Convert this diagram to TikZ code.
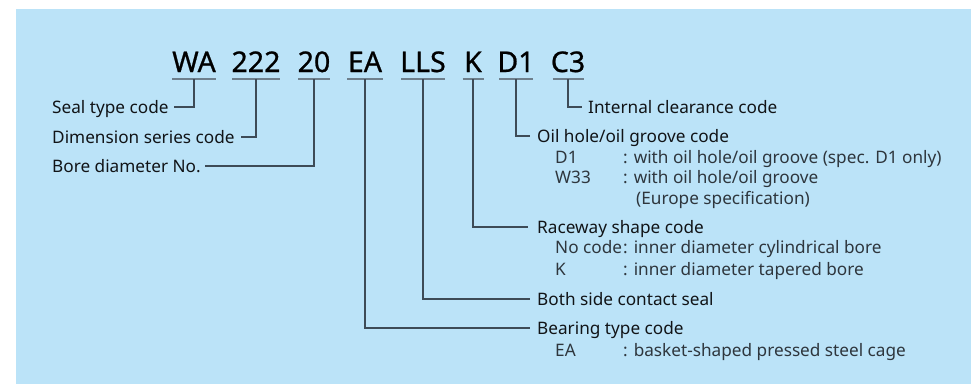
\documentclass[tikz,border=0pt]{standalone}
\usepackage{fontspec}
\setmainfont{Noto Sans}
\newfontfamily\codefont[FakeBold=0.8]{Noto Sans}
\definecolor{bgblue}{HTML}{BBE3F8}
\definecolor{maintext}{HTML}{111417}
\definecolor{subtext}{HTML}{2E363D}
\definecolor{leadgray}{HTML}{3D4B57}
\definecolor{ulgray}{HTML}{6E7F8C}
\begin{document}
\begin{tikzpicture}[x=1pt,y=-1pt,
  code/.style={anchor=base,inner sep=0pt,font=\codefont\fontsize{28.5}{32}\selectfont,text=black},
  lbl/.style={anchor=west,inner sep=0pt,font=\fontsize{17.2}{20}\selectfont,text=maintext,text height=12.3pt,text depth=0pt},
  sub/.style={anchor=west,inner sep=0pt,font=\fontsize{17.2}{20}\selectfont,text=subtext,text height=12.3pt,text depth=0pt},
  lead/.style={draw=leadgray,line width=1.2pt},
  uline/.style={draw=ulgray,line width=2pt}]
\useasboundingbox (0,0) rectangle (971,384);
\fill[bgblue] (16,9) rectangle (971,384);
% code letters
\node[code] (wa) at (194,72) {WA};
\node[code] (n222) at (256,72) {222};
\node[code] (n20) at (314,72) {20};
\node[code] (ea) at (365,72) {EA};
\node[code] (lls) at (423,72) {LLS};
\node[code] (k) at (473,72) {K};
\node[code] (d1) at (516,72) {D1};
\node[code] (c3) at (568,72) {C3};
% underline anchor points
\coordinate (uwa) at (194,79);
\coordinate (u222) at (256,79);
\coordinate (u20) at (314,79);
\coordinate (uea) at (365,79);
\coordinate (ulls) at (423,79);
\coordinate (uk) at (473,79);
\coordinate (ud1) at (516,79);
\coordinate (uc3) at (568,79);
\draw[uline] ([xshift=-22pt]uwa) -- ([xshift=22pt]uwa);
\draw[uline] ([xshift=-24pt]u222) -- ([xshift=24pt]u222);
\draw[uline] ([xshift=-16pt]u20) -- ([xshift=16pt]u20);
\draw[uline] ([xshift=-18pt]uea) -- ([xshift=18pt]uea);
\draw[uline] ([xshift=-22pt]ulls) -- ([xshift=22pt]ulls);
\draw[uline] ([xshift=-10.5pt]uk) -- ([xshift=10.5pt]uk);
\draw[uline] ([xshift=-17pt]ud1) -- ([xshift=17pt]ud1);
\draw[uline] ([xshift=-15.5pt]uc3) -- ([xshift=15.5pt]uc3);
% left labels
\node[lbl] (seal) at (52,107) {Seal type code};
\node[lbl] (dim) at (52,137) {Dimension series code};
\node[lbl] (bore) at (52,166) {Bore diameter No.};
% right labels
\node[lbl] (inter) at (588,107) {Internal clearance code};
\node[lbl] (oil) at (537,136) {Oil hole/oil groove code};
\node[sub] (d1k) at (555,157) {D1};
\node[sub] (d1v) at (623,157) {: with oil hole/oil groove (spec. D1 only)};
\node[sub] (w33k) at (555,177) {W33};
\node[sub] (w33v) at (623,177) {: with oil hole/oil groove};
\node[sub] (eur) at (636,198) {(Europe specification)};
\node[lbl] (race) at (537,227) {Raceway shape code};
\node[sub] (nok) at (555,247) {No code};
\node[sub] (nov) at (623,247) {: inner diameter cylindrical bore};
\node[sub] (kk) at (555,269) {K};
\node[sub] (kv) at (623,269) {: inner diameter tapered bore};
\node[lbl] (both) at (537,299) {Both side contact seal};
\node[lbl] (bear) at (537,328) {Bearing type code};
\node[sub] (eak) at (555,350) {EA};
\node[sub] (eav) at (623,350) {: basket-shaped pressed steel cage};
% leaders
\draw[lead] (uwa) |- ([xshift=5pt]seal.east);
\draw[lead] (u222) |- ([xshift=6pt]dim.east);
\draw[lead] (u20) |- ([xshift=4pt]bore.east);
\draw[lead] (uc3) |- ([xshift=-6pt]inter.west);
\draw[lead] (ud1) |- ([xshift=-7pt]oil.west);
\draw[lead] (uk) |- ([xshift=-9pt]race.west);
\draw[lead] (ulls) |- ([xshift=-7pt]both.west);
\draw[lead] (uea) |- ([xshift=-7pt]bear.west);
\end{tikzpicture}
\end{document}
